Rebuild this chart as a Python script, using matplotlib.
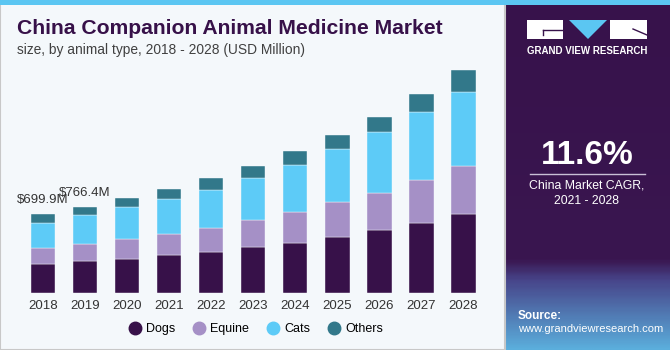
import numpy as np
import matplotlib.pyplot as plt
from matplotlib.patches import Rectangle, Polygon
from matplotlib.lines import Line2D
from matplotlib.colors import LinearSegmentedColormap

# Data (USD Million)
years = ["2018", "2019", "2020", "2021", "2022", "2023", "2024", "2025", "2026", "2027", "2028"]
dogs = [259, 287, 304, 337, 364, 409, 448, 501, 561, 621, 702]
equine = [142, 150, 176, 188, 215, 239, 277, 311, 334, 385, 432]
cats = [227, 262, 284, 316, 343, 381, 418, 472, 541, 609, 665]
others = [71.9, 67.4, 81, 84, 102, 105, 125, 125, 140, 161, 192]
series_names = ["Dogs", "Equine", "Cats", "Others"]
series_colors = ["#371149", "#A590C6", "#5DCBF7", "#32788A"]
labelled = {0: "$699.9M", 1: "$766.4M"}

W, H = 670, 350
plt.rcParams["font.family"] = ["Liberation Sans", "DejaVu Sans"]

fig = plt.figure(figsize=(W / 100, H / 100), dpi=100)
fig.patch.set_facecolor("#F4F8FB")

def px(x0, y0, x1, y1):
    # pixel box (top-left origin) -> figure fraction rect
    return [x0 / W, 1 - y1 / H, (x1 - x0) / W, (y1 - y0) / H]

# right panel with gradient at the bottom (drawn first, underneath)
side = fig.add_axes(px(505, 5, 670, 350))
side.set_zorder(0)
side.set_xlim(0, 1)
side.set_ylim(345, 0)
side.axis("off")
cmap = LinearSegmentedColormap.from_list("panel", [(0, "#37124B"), (0.74, "#3A1650"),
                                                   (0.8, "#47458A"), (1, "#5BAEDC")])
grad = np.linspace(0, 1, 300).reshape(-1, 1)
side.imshow(grad, cmap=cmap, aspect="auto", extent=[0, 1, 345, 0])

# overlay for frame, logo and texts
bg = fig.add_axes([0, 0, 1, 1])
bg.set_zorder(1)
bg.patch.set_alpha(0)
bg.set_xlim(0, W)
bg.set_ylim(H, 0)
bg.axis("off")
bg.add_patch(Rectangle((0, 0), 505, H, facecolor="#F4F8FB", edgecolor="#C8C8C8", lw=1.5))
bg.add_patch(Rectangle((0, 0), W, 5, facecolor="#5BC6F2", lw=0))

# logo
bg.add_patch(Rectangle((527, 20), 36, 19, facecolor="white", lw=0))
bg.add_patch(Polygon([[569, 20], [607, 20], [588, 39]], facecolor="#5BC6F2", lw=0))
bg.add_patch(Rectangle((610, 20), 37, 19, facecolor="white", lw=0))
bg.plot([543, 563], [30, 30], color="#37124B", lw=1)
bg.plot([543, 543], [30, 35], color="#37124B", lw=1)
bg.plot([633, 647], [29, 35], color="#37124B", lw=1)
bg.text(587, 51.5, "GRAND VIEW RESEARCH", color="white", fontsize=7, fontweight="bold",
        ha="center", va="center")

bg.text(587, 155, "11.6%", color="white", fontsize=24, fontweight="bold", ha="center", va="center")
bg.plot([530, 645], [173.5, 173.5], color="#C9BFD6", lw=1)
bg.text(587, 186, "China Market CAGR,", color="white", fontsize=8.8, ha="center", va="center")
bg.text(587, 201, "2021 - 2028", color="white", fontsize=8.8, ha="center", va="center")
bg.text(518, 316, "Source:", color="white", fontsize=8.5, fontweight="bold", ha="left", va="center")
bg.text(518, 329, "www.grandviewresearch.com", color="white", fontsize=8, ha="left", va="center")

# titles
bg.text(17, 28, "China Companion Animal Medicine Market", color="#371149", fontsize=15.2,
        fontweight="bold", ha="left", va="center")
bg.text(17, 50, "size, by animal type, 2018 - 2028 (USD Million)", color="#404040",
        fontsize=9.9, ha="left", va="center")

# chart
x = np.arange(len(years))
ax = fig.add_axes(px(43 - 0.7 * 42.05, 60, 463.5 + 0.7 * 42.05, 292.7))
ax.set_zorder(2)
ax.set_facecolor("none")
ax.set_xlim(-0.7, len(years) - 0.3)
ax.set_ylim(0, 232.7 * 8.95)

bottom = np.zeros(len(years))
for vals, name, col in zip([dogs, equine, cats, others], series_names, series_colors):
    ax.bar(x, vals, width=0.58, bottom=bottom, color=col, edgecolor="#F4F8FB",
           linewidth=0.3, label=name)
    bottom += np.array(vals)

for i, txt in labelled.items():
    ax.text(x[i], bottom[i] + 75, txt, ha="center", va="bottom", fontsize=9.5, color="#333333")

ax.set_xticks(x)
ax.set_xticklabels(years, fontsize=9.5, color="#333333")
ax.tick_params(axis="x", length=0, pad=5)
ax.set_yticks([])
for s in ax.spines.values():
    s.set_visible(False)

handles = [Line2D([], [], marker="o", linestyle="", markersize=9, markerfacecolor=c,
                  markeredgecolor=c) for c in series_colors]
leg = fig.legend(handles, series_names, loc="center", bbox_to_anchor=(255 / W, 1 - 329 / H),
                 ncol=4, frameon=False, fontsize=9, handletextpad=0.3, columnspacing=1.3,
                 handlelength=1.2)
leg.set_zorder(3)

fig.savefig("out.png", dpi=100, facecolor=fig.get_facecolor())
